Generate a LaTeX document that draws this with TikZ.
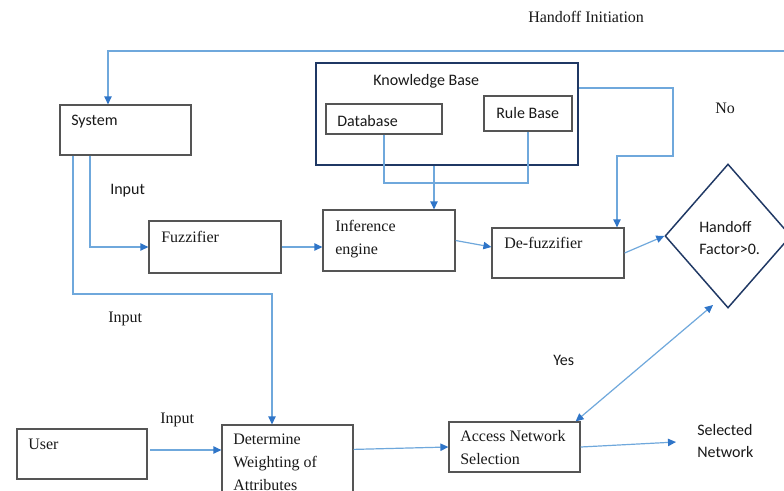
\documentclass[tikz,border=0pt]{standalone}
\usepackage{fontspec}
\setmainfont{Liberation Serif}
\newfontfamily\calfont{Carlito}
\usetikzlibrary{arrows.meta,shapes.geometric,calc}
\definecolor{lineblue}{HTML}{6FA8DC}
\definecolor{tipblue}{HTML}{2F75C8}
\definecolor{boxgrey}{HTML}{555555}
\definecolor{navy}{HTML}{1F3864}
\tikzset{
  box/.style={draw=boxgrey, line width=0.9pt, rectangle, inner sep=0pt},
  kbbox/.style={draw=navy, line width=1.4pt, rectangle, inner sep=0pt},
  dia/.style={draw=navy, line width=1.1pt, diamond, inner sep=0pt},
  conn/.style={draw=lineblue, line width=0.9pt},
  arr/.style={conn, -{Triangle[length=6pt,width=5.5pt,color=tipblue]}},
  darr/.style={conn, {Triangle[length=6pt,width=5.5pt,color=tipblue]}-{Triangle[length=6pt,width=5.5pt,color=tipblue]}},
  serif/.style={inner sep=0pt, anchor=west, align=left, text=black!90, font=\fontsize{12}{17.25}\selectfont},
  sans/.style={inner sep=0pt, anchor=west, align=left, text=black!90, font=\calfont\fontsize{12}{16.5}\selectfont},
}
\begin{document}
\begin{tikzpicture}[x=0.75pt,y=-0.75pt]
\useasboundingbox[fill=white] (0,0) rectangle (784,490);
% boxes
\node[box, minimum width=98.25pt, minimum height=37.5pt] (sys) at (125.5,130) {};
\node[box, minimum width=99pt, minimum height=39pt] (fuz) at (215,247) {};
\node[box, minimum width=99pt, minimum height=45.75pt] (inf) at (389,240.5) {};
\node[box, minimum width=99pt, minimum height=37.5pt] (dfz) at (558,253) {};
\node[kbbox, minimum width=196.5pt, minimum height=76.5pt] (kb) at (447,114) {};
\node[box, minimum width=87pt, minimum height=22.5pt] (db) at (384,119) {};
\node[box, minimum width=66pt, minimum height=26.25pt] (rb) at (528,113.5) {};
\node[box, minimum width=97.5pt, minimum height=37.5pt] (user) at (82,454) {};
\node[box, minimum width=98.25pt, minimum height=56.25pt] (det) at (287.5,462.5) {};
\node[box, minimum width=98.25pt, minimum height=37.5pt] (acc) at (514.5,447) {};
\node[dia, minimum width=94.5pt, minimum height=108pt] (dec) at (728,236) {};
% texts
\node[serif] (tHI) at (528,17) {Handoff Initiation};
\node[sans] (tSys) at (71,122) {System};
\node[sans] (tIn1) at (110,191) {Input};
\node[serif] (tIn2) at (108,319) {Input};
\node[serif] (tIn3) at (160,420) {Input};
\node[serif] (tFuz) at (161,237) {Fuzzifier};
\node[serif] (tInf) at (335,239.5) {Inference\\engine};
\node[sans] (tKB) at (373,81) {Knowledge Base};
\node[sans] (tDB) at (337,121) {Database};
\node[sans] (tRB) at (496,113) {Rule Base};
\node[serif] (tDfz) at (504,243) {De-fuzzifier};
\node[sans] (tDec) at (699,238) {Handoff\\Factor>0.};
\node[serif] (tNo) at (715,108) {No};
\node[sans] (tYes) at (553,360) {Yes};
\node[serif] (tUser) at (28,444) {User};
\node[serif] (tDet) at (233,462) {Determine\\Weighting of\\Attributes};
\node[serif] (tAcc) at (460,447.5) {Access Network\\Selection};
\node[sans] (tSel) at (697,440.5) {Selected\\Network};
% coordinates
\coordinate (tr) at (795,51);
\coordinate (c1) at (108,51);
\coordinate (s2) at (90,0);
\coordinate (s1) at (73,294);
\coordinate (s3) at (272,294);
\coordinate (k1) at (434,0);
\coordinate (j2) at (528,183);
\coordinate (k2) at (673,88);
\coordinate (k3) at (673,156);
\coordinate (k4) at (617,156);
\coordinate (d1) at (713,305);
\coordinate (sel) at (676,442);
% connectors
\draw[arr] (tr) -- (c1) -- (c1 |- sys.north);
\draw[arr] (s2 |- sys.south) |- (fuz.west);
\draw[arr] (s1 |- sys.south) -- (s1) -- (s3) -- (s3 |- det.north);
\draw[arr] (fuz.east) -- (fuz.east -| inf.west);
\draw[arr] (k1 |- kb.south) -- (k1 |- inf.north);
\draw[conn] (db.south) |- (j2) -- (rb.south);
\draw[arr] (k2 -| kb.east) -- (k2) -- (k3) -- (k4) -- (k4 |- dfz.north);
\draw[arr] (inf.east) -- ($(dfz.west)+(0,-6)$);
\draw[arr] (dfz.east) -- (dec.west);
\draw[darr] (d1) -- ($(acc.north east)+(-5,0)$);
\draw[arr] ([xshift=2pt,yshift=3pt]user.east) -- ([yshift=3pt]user.east -| det.west);
\draw[arr] ($(det.north east)+(0,25)$) -- (acc.west);
\draw[arr] (acc.east) -- (sel);
\end{tikzpicture}
\end{document}
